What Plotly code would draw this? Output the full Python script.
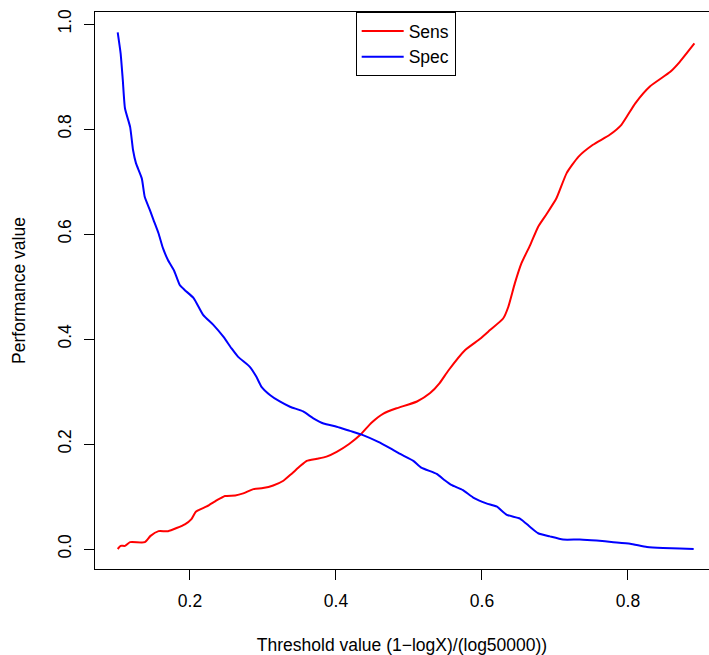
import plotly.graph_objects as go

# Data
spec_x = [0.101, 0.105, 0.108, 0.111, 0.118, 0.122, 0.126, 0.134, 0.138, 0.145,
          0.150, 0.157, 0.163, 0.170, 0.178, 0.186, 0.193, 0.205, 0.218, 0.232,
          0.246, 0.257, 0.266, 0.282, 0.291, 0.298, 0.310, 0.323, 0.337, 0.355,
          0.369, 0.383, 0.401, 0.419, 0.437, 0.458, 0.474, 0.488, 0.506, 0.517,
          0.538, 0.549, 0.558, 0.574, 0.588, 0.606, 0.620, 0.634, 0.652, 0.666,
          0.677, 0.693, 0.711, 0.734, 0.757, 0.780, 0.803, 0.826, 0.848, 0.871,
          0.890]
spec_y = [0.984, 0.944, 0.893, 0.839, 0.804, 0.760, 0.735, 0.706, 0.671, 0.646,
          0.627, 0.601, 0.573, 0.550, 0.531, 0.503, 0.493, 0.478, 0.446, 0.427,
          0.404, 0.382, 0.366, 0.347, 0.328, 0.309, 0.293, 0.281, 0.271, 0.262,
          0.249, 0.239, 0.233, 0.225, 0.217, 0.204, 0.192, 0.181, 0.168, 0.155,
          0.143, 0.131, 0.122, 0.112, 0.098, 0.087, 0.081, 0.065, 0.058, 0.042,
          0.030, 0.024, 0.018, 0.018, 0.016, 0.013, 0.010, 0.004, 0.002, 0.001,
          0.000]

sens_x = [0.101, 0.105, 0.111, 0.118, 0.138, 0.146, 0.157, 0.170, 0.193, 0.202,
          0.208, 0.223, 0.237, 0.248, 0.262, 0.273, 0.287, 0.300, 0.314, 0.328,
          0.339, 0.351, 0.360, 0.374, 0.387, 0.401, 0.418, 0.433, 0.449, 0.465,
          0.483, 0.511, 0.529, 0.542, 0.554, 0.577, 0.597, 0.611, 0.629, 0.636,
          0.645, 0.654, 0.666, 0.677, 0.689, 0.702, 0.716, 0.732, 0.752, 0.775,
          0.791, 0.810, 0.830, 0.858, 0.871, 0.891]
sens_y = [0.000, 0.006, 0.006, 0.013, 0.013, 0.025, 0.034, 0.034, 0.047, 0.057,
          0.071, 0.081, 0.093, 0.101, 0.102, 0.106, 0.114, 0.116, 0.121, 0.130,
          0.143, 0.158, 0.168, 0.172, 0.176, 0.185, 0.200, 0.217, 0.241, 0.258,
          0.268, 0.281, 0.297, 0.316, 0.340, 0.379, 0.400, 0.417, 0.439, 0.461,
          0.506, 0.544, 0.579, 0.614, 0.639, 0.668, 0.716, 0.747, 0.770, 0.789,
          0.808, 0.849, 0.881, 0.909, 0.928, 0.963]

x_ticks = [0.2, 0.4, 0.6, 0.8]
y_ticks = [0.0, 0.2, 0.4, 0.6, 0.8, 1.0]

FONT = "Liberation Sans, Arial, Helvetica, sans-serif"
FS = 17.5

fig = go.Figure()
fig.add_trace(go.Scatter(x=sens_x, y=sens_y, mode="lines", name="Sens",
                         line=dict(color="#FF0000", width=2,
                                   shape="spline", smoothing=0.5)))
fig.add_trace(go.Scatter(x=spec_x, y=spec_y, mode="lines", name="Spec",
                         line=dict(color="#0000FF", width=2,
                                   shape="spline", smoothing=0.5)))

fig.update_layout(
    width=709, height=655,
    margin=dict(l=95, r=0, t=12, b=86),
    paper_bgcolor="white", plot_bgcolor="white",
    font=dict(family=FONT, size=FS, color="black"),
    showlegend=True,
    legend=dict(x=0.506, xanchor="center", y=1, yanchor="top",
                bordercolor="black", borderwidth=1, bgcolor="white",
                itemwidth=42, font=dict(size=FS)),
    xaxis=dict(range=[0.0699, 0.9110], tickvals=x_ticks, tickformat=".1f",
               showgrid=False, zeroline=False, showline=True, mirror=True,
               linecolor="black", linewidth=1, ticks="outside", ticklen=10,
               tickcolor="black", ticklabelstandoff=6,
               title=dict(text="Threshold value (1\u2212logX)/(log50000))",
                          standoff=30, font=dict(size=FS))),
    yaxis=dict(range=[-0.0381, 1.0229], tickvals=y_ticks, tickformat=".1f",
               showgrid=False, zeroline=False, showline=True, mirror=False,
               linecolor="black", linewidth=1, ticks="outside", ticklen=10,
               tickcolor="black", tickangle=-90, ticklabelstandoff=6,
               title=dict(text="Performance value", standoff=24,
                          font=dict(size=FS))),
)

fig.write_html("out.html")
